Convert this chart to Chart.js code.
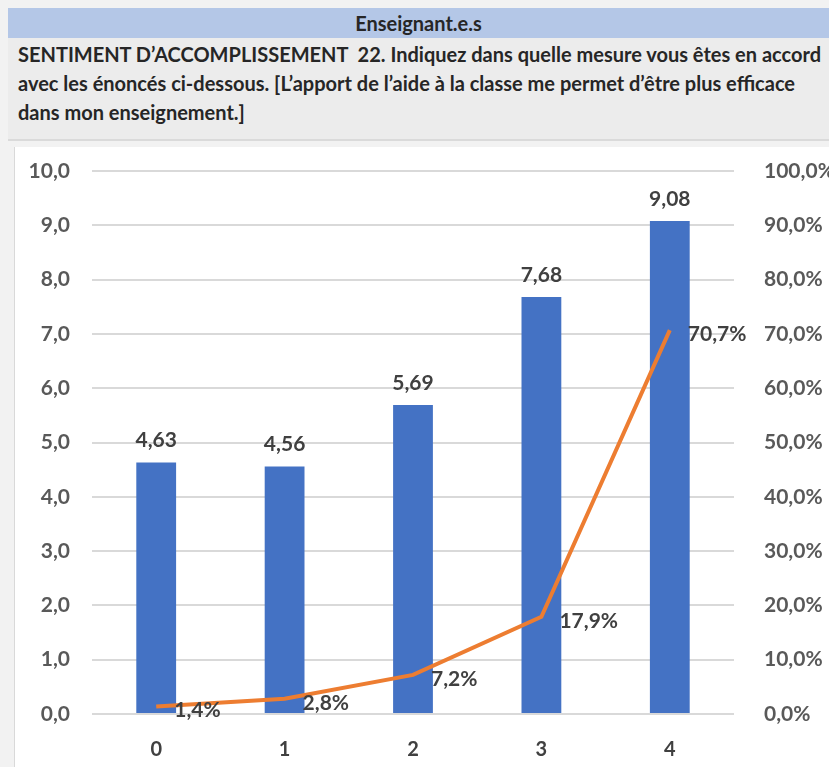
<!DOCTYPE html>
<html>
<head>
<meta charset="utf-8">
<script src="https://cdn.jsdelivr.net/npm/chart.js@4"></script>
<style>
  html, body { margin: 0; padding: 0; }
  body { width: 829px; height: 767px; background: #f2f2f2; position: relative; overflow: hidden;
         font-family: Lato, "Open Sans", sans-serif; }
  #bande { position: absolute; left: 8px; top: 8px; width: 821px; height: 30px; background: #b4c7e7;
           font-weight: bold; font-size: 20px; color: #262626; text-align: center; line-height: 31px; }
  #titre { position: absolute; left: 8px; top: 38px; width: 821px; height: 103px; background: #ececec;
           border-bottom: 2px solid #dadada; padding-left: 10px; padding-top: 2px; box-sizing: border-box;
           font-weight: bold; font-size: 20px; color: #262626; line-height: 29px; white-space: nowrap; }
  #zone { position: absolute; left: 14px; top: 147px; width: 815px; height: 620px; background: #fff;
          border-left: 1px solid #d9d9d9; }
</style>
</head>
<body>
<div id="bande">Enseignant.e.s</div>
<div id="titre">SENTIMENT D’ACCOMPLISSEMENT&nbsp; 22. Indiquez dans quelle mesure vous êtes en accord<br>avec les énoncés ci-dessous. [L’apport de l’aide à la classe me permet d’être plus efficace<br>dans mon enseignement.]</div>
<div id="zone"><canvas id="graphique" width="815" height="620"></canvas></div>

<script>
// Données
const categories = ['0', '1', '2', '3', '4'];
const moyennes = [4.63, 4.56, 5.69, 7.68, 9.08];
const pourcentages = [1.4, 2.8, 7.2, 17.9, 70.7];
const ticksGauche = ['0,0', '1,0', '2,0', '3,0', '4,0', '5,0', '6,0', '7,0', '8,0', '9,0', '10,0'];
const ticksDroite = ['0,0%', '10,0%', '20,0%', '30,0%', '40,0%', '50,0%', '60,0%', '70,0%', '80,0%', '90,0%', '100,0%'];

const police = 'Lato, "Open Sans", sans-serif';
const virgule = (v, n) => v.toFixed(n).replace('.', ',');

// Étiquettes de valeurs (barres au-dessus, courbe à droite du point)
const etiquettes = {
    id: 'etiquettes',
    afterDatasetsDraw(chart) {
        const ctx = chart.ctx;
        ctx.save();
        ctx.font = 'bold 21px ' + police;
        ctx.fillStyle = '#404040';
        ctx.textBaseline = 'middle';
        chart.getDatasetMeta(1).data.forEach((barre, i) => {
            ctx.textAlign = 'center';
            ctx.fillText(virgule(moyennes[i], 2), barre.x, barre.y - 22);
        });
        chart.getDatasetMeta(0).data.forEach((pt, i) => {
            ctx.textAlign = 'left';
            ctx.fillText(virgule(pourcentages[i], 1) + '%', pt.x + 18, pt.y + 4);
        });
        ctx.restore();
    }
};

// largeur fixe des axes verticaux, sans marge haute ajoutée par les étiquettes
const axeFixe = (largeur) => (s) => {
    s.width = largeur;
    s.paddingTop = 0;
    s.paddingBottom = 0;
};

const ctx = document.getElementById('graphique').getContext('2d');
new Chart(ctx, {
    data: {
        labels: categories,
        datasets: [
            {
                type: 'line',
                data: pourcentages,
                yAxisID: 'y2',
                borderColor: '#ed7d31',
                borderWidth: 4,
                pointRadius: 0,
                tension: 0,
                order: 0
            },
            {
                type: 'bar',
                data: moyennes,
                yAxisID: 'y',
                backgroundColor: '#4472c4',
                barPercentage: 0.31,
                categoryPercentage: 1,
                order: 1
            }
        ]
    },
    options: {
        responsive: false,
        animation: false,
        layout: { padding: { top: 24, right: 0, bottom: 0, left: 0 } },
        plugins: { legend: { display: false }, tooltip: { enabled: false } },
        scales: {
            x: {
                grid: { display: false },
                border: { display: false },
                ticks: { color: '#404040', font: { family: police, size: 20, weight: 'bold' }, padding: 16 },
                afterFit: (s) => { s.height = 53; }
            },
            y: {
                position: 'left',
                min: 0, max: 10,
                grid: { color: '#d9d9d9', lineWidth: 2, drawTicks: false },
                border: { display: false },
                ticks: {
                    stepSize: 1, padding: 22, color: '#595959',
                    font: { family: police, size: 21, weight: 'bold' },
                    callback: (v) => ticksGauche[v]
                },
                afterFit: axeFixe(77)
            },
            y2: {
                position: 'right',
                min: 0, max: 100,
                grid: { display: false },
                border: { display: false },
                ticks: {
                    stepSize: 10, padding: 22, color: '#595959',
                    font: { family: police, size: 21, weight: 'bold' },
                    callback: (v) => ticksDroite[v / 10]
                },
                afterFit: axeFixe(96)
            }
        }
    },
    plugins: [etiquettes]
});
</script>
</body>
</html>
